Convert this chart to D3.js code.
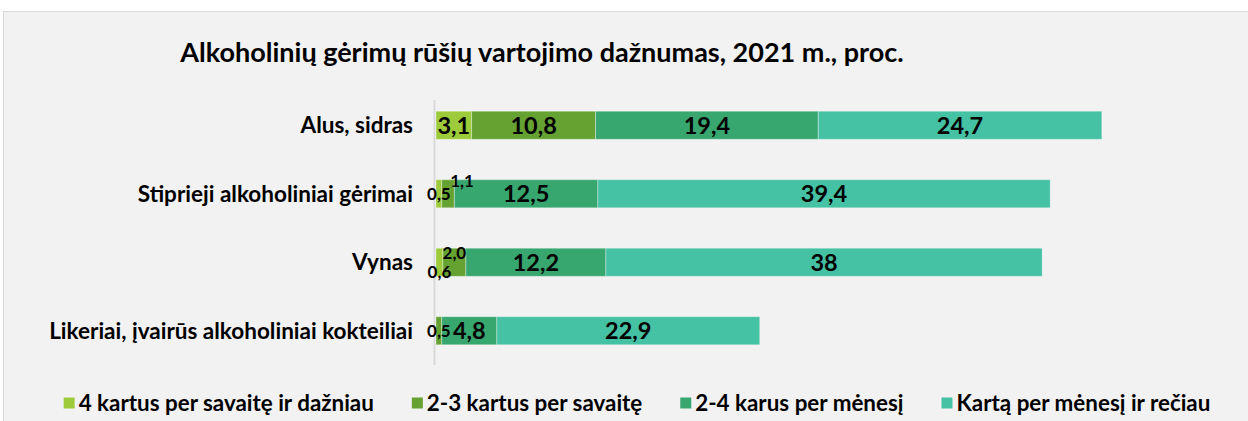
<!DOCTYPE html>
<html>
<head>
<meta charset="utf-8">
<script src="https://cdn.jsdelivr.net/npm/d3@7"></script>
<style>
  body { margin:0; background:#fff; }
  text { font-family: Lato, "Open Sans", sans-serif; font-weight:700; fill:#000; }
</style>
</head>
<body>
<div id="canvas" class="canvas" style="width:1248px;height:421px"></div>
<script>
// data
var categories = ['Alus, sidras', 'Stiprieji alkoholiniai gėrimai', 'Vynas', 'Likeriai, įvairūs alkoholiniai kokteiliai'];
var seriesNames = ['4 kartus per savaitę ir dažniau', '2-3 kartus per savaitę', '2-4 karus per mėnesį', 'Kartą per mėnesį ir rečiau'];
// shown values, as printed on the chart
var weekly4   = ['3,1', '0,5', '0,6', '0'];
var weekly23  = ['10,8', '1,1', '2,0', '0,5'];
var monthly24 = ['19,4', '12,5', '12,2', '4,8'];
var rarely    = ['24,7', '39,4', '38', '22,9'];
var colors = ['#9dcb3a', '#65a232', '#37a66f', '#45c1a3'];

var title = 'Alkoholinių gėrimų rūšių vartojimo dažnumas, 2021 m., proc.';

var W = 1248, H = 421;
var svg = d3.select('.canvas').append('svg')
    .attr('width', W).attr('height', H);

// chart area
svg.append('rect')
    .attr('x', 3.5).attr('y', 11.5)
    .attr('width', W + 20).attr('height', H)
    .attr('fill', '#f2f2f2').attr('stroke', '#d9d9d9');

svg.append('text')
    .attr('x', 542).attr('y', 62)
    .attr('text-anchor', 'middle')
    .style('font-size', '27px')
    .text(title);

var num = function(s){ return +s.replace(',', '.'); };
var rows = categories.map(function(c, i){
  var r = {cat: c};
  [weekly4, weekly23, monthly24, rarely].forEach(function(arr, k){
    r['s' + k] = num(arr[i]);
    r['l' + k] = arr[i];
  });
  return r;
});

var keys = ['s0', 's1', 's2', 's3'];
var stacked = d3.stack().keys(keys)(rows);

var x = d3.scaleLinear().domain([0, 60]).range([436, 436 + 60 * 11.48]);
var y = d3.scaleBand().domain(categories).range([91, 365]).paddingInner(0.59).paddingOuter(0.295);

// axis line
svg.append('line')
    .attr('x1', 434.5).attr('x2', 434.5)
    .attr('y1', 100).attr('y2', 365)
    .attr('stroke', '#d9d9d9').attr('stroke-width', 2);

var layers = svg.selectAll('.layer')
    .data(stacked)
    .enter()
    .append('g')
    .attr('class', 'layer')
    .attr('fill', function(d, i){ return colors[i]; });

layers.selectAll('rect')
    .data(function(d){ return d.filter(function(p){ return p[1] - p[0] > 0; }); })
    .enter()
    .append('rect')
    .attr('x', function(d){ return x(d[0]); })
    .attr('y', function(d){ return y(d.data.cat); })
    .attr('width', function(d){ return x(d[1]) - x(d[0]); })
    .attr('height', y.bandwidth())
    .attr('stroke', 'rgba(255,255,255,0.35)')
    .attr('stroke-width', 1);

// labels moved by hand in the original
var nudge = { '1|1': [14, -13], '2|1': [0, -9], '2|0': [0, 10] };

stacked.forEach(function(layer, k){
  layer.forEach(function(p, i){
    if (p[1] - p[0] <= 0) return;
    var wpx = x(p[1]) - x(p[0]);
    var off = nudge[i + '|' + k] || [0, 0];
    svg.append('text')
        .attr('x', (x(p[0]) + x(p[1])) / 2 + off[0])
        .attr('y', y(p.data.cat) + y.bandwidth() / 2 + off[1])
        .attr('dy', '0.36em')
        .attr('text-anchor', 'middle')
        .style('font-size', wpx < 30 ? '17px' : '23.5px')
        .text(p.data['l' + k]);
  });
});

// category labels
svg.selectAll('.cat')
    .data(categories)
    .enter()
    .append('text')
    .attr('class', 'cat')
    .attr('x', 413)
    .attr('y', function(d){ return y(d) + y.bandwidth() / 2; })
    .attr('dy', '0.36em')
    .attr('text-anchor', 'end')
    .style('font-size', '22.5px')
    .text(function(d){ return d; });

// legend
var legend = svg.append('g');
var cx = 0;
seriesNames.forEach(function(s, i){
  var g = legend.append('g').attr('transform', 'translate(' + cx + ',0)');
  g.append('rect').attr('x', 0).attr('y', -5.5).attr('width', 11).attr('height', 11).attr('fill', colors[i]);
  var t = g.append('text').attr('x', 15).attr('y', 0).attr('dy', '0.36em')
      .style('font-size', '22.4px').text(s);
  cx += 15 + t.node().getComputedTextLength() + 38;
});
var total = cx - 38;
legend.attr('transform', 'translate(' + (637 - total / 2) + ',403)');
</script>
</body>
</html>
